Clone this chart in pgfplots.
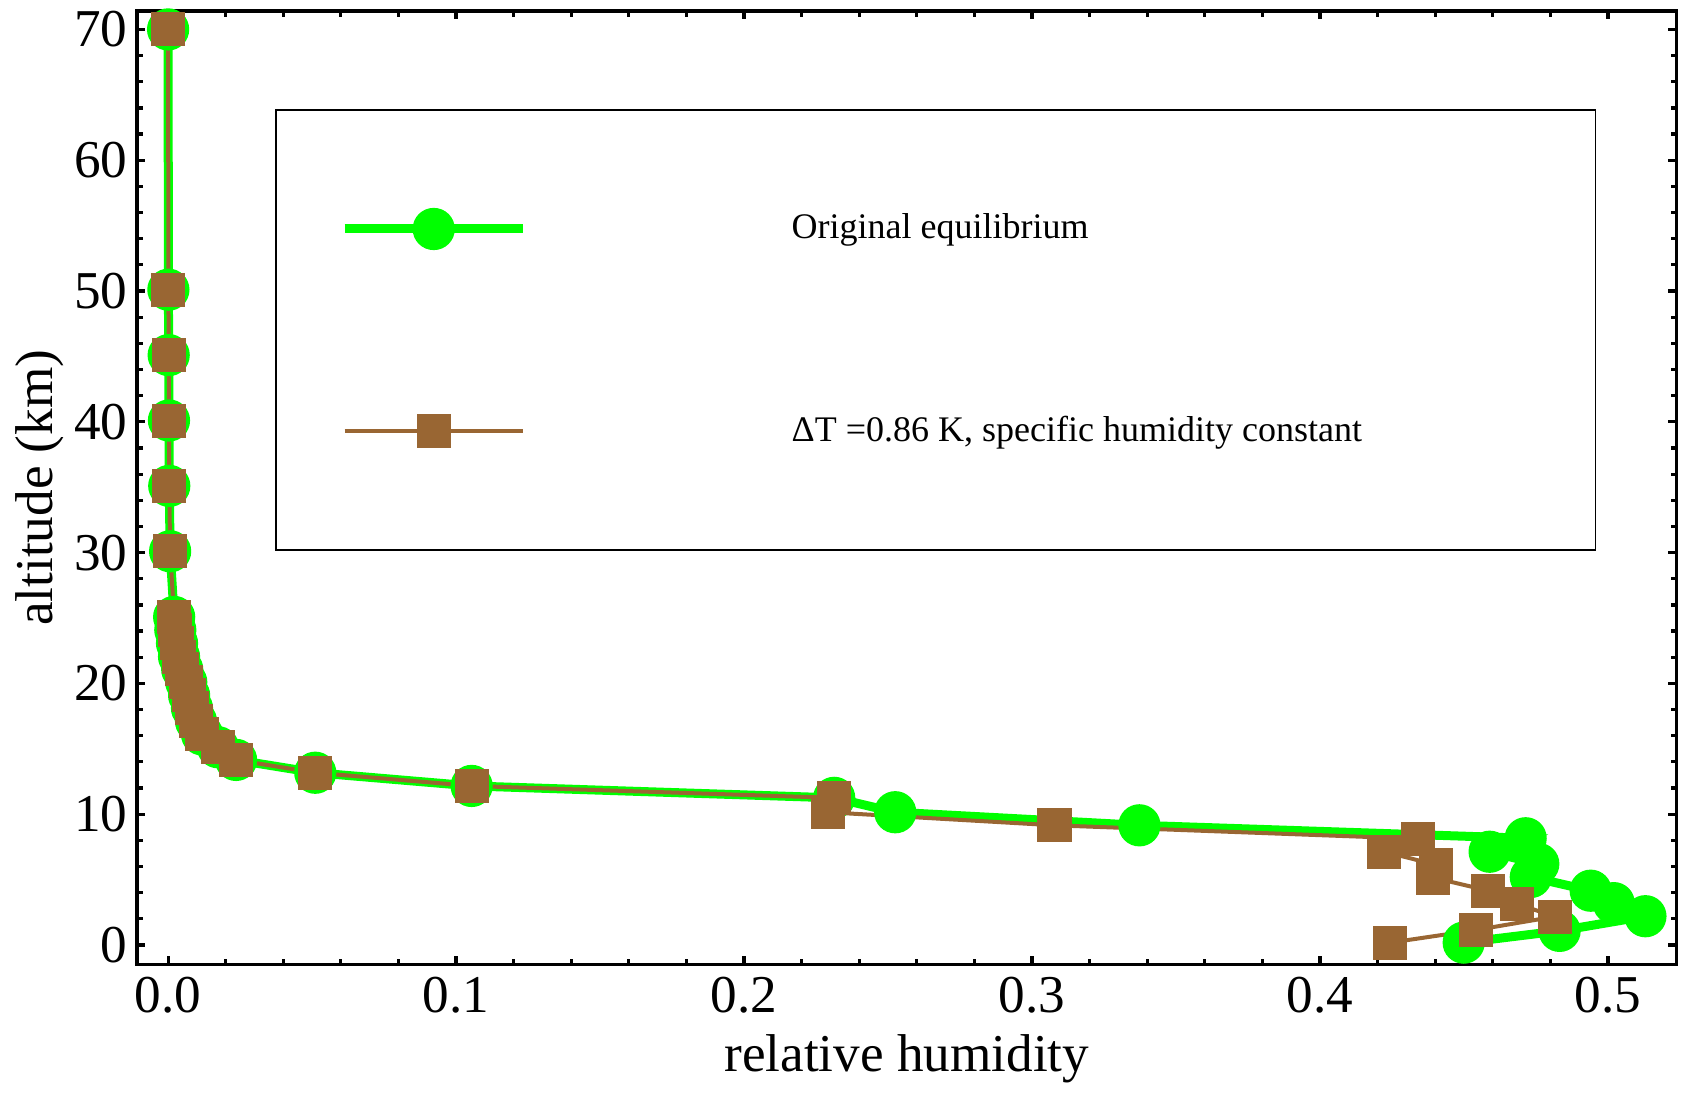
\documentclass[border=0pt]{standalone}
\usepackage{fontspec}
\setmainfont{Liberation Serif}
\usepackage{pgfplots}
\pgfplotsset{compat=1.18}
\definecolor{mgreen}{RGB}{0,255,0}
\definecolor{mbrown}{RGB}{153,102,51}
\begin{document}
\begin{tikzpicture}
\begin{axis}[
  name=ax,
  scale only axis,
  width=384.875pt, height=238.375pt,
  xmin=-0.0108, xmax=0.5238,
  ymin=-1.49, ymax=71.41,
  xtick={0,0.1,0.2,0.3,0.4,0.5},
  xticklabels={0.0,0.1,0.2,0.3,0.4,0.5},
  ytick={0,10,20,30,40,50,60,70},
  minor x tick num=4,
  minor y tick num=4,
  xtick pos=both, ytick pos=both,
  xticklabel pos=lower, yticklabel pos=left,
  tick align=inside,
  major tick length=2.1pt,
  minor tick length=1.4pt,
  every tick/.style={black, line width=0.8pt},
  axis line style={line width=0.85pt},
  /pgf/number format/assume math mode=true,
  tick label style={font=\fontsize{13.3}{16}\selectfont},
  xticklabel style={inner sep=2.9pt},
  yticklabel style={inner sep=2.2pt},
  every axis x label/.style={at={(axis description cs:0.5,-0.1123)}, anchor=base},
  every axis y label/.style={at={(axis description cs:-0.063,0.5)}, rotate=90, anchor=center},
  label style={font=\fontsize{13.3}{16}\selectfont},
  xlabel={relative humidity},
  ylabel={altitude (km)},
  legend cell align=left,
  legend style={
    at={(axis description cs:0.0896,0.8968)}, anchor=north west,
    draw=black, line width=0.4pt,
    inner xsep=0pt, inner ysep=4.4pt,
    /tikz/column sep=0pt, /tikz/row sep=0pt,
    nodes={inner sep=0pt},
    font=\fontsize{9}{11}\selectfont,
  },
  legend image code/.code={
    \path[draw=none, fill=none] (-17.25pt,-25.3pt) rectangle (111.75pt,25.3pt);
    \draw[mark repeat=2,mark phase=2,#1] plot coordinates {(0pt,0pt) (22.25pt,0pt) (44.5pt,0pt)};
  },
]
\addplot[color=mgreen, line width=2.25pt, mark=*, mark size=4.15pt,
  mark options={fill=mgreen, draw=none}] coordinates {
(0.4499,0.18) (0.4832,1.08) (0.513,2.2) (0.502,3.2) (0.494,4.15)
(0.4732,5.2) (0.4758,6.2) (0.4589,7.13) (0.4714,8.16) (0.3373,9.15)
(0.2525,10.15) (0.2313,11.25) (0.1054,12.16) (0.0511,13.17) (0.0236,14.15)
(0.0173,15.12) (0.0118,16.1) (0.0097,17.1) (0.0083,18.1) (0.0073,19.08)
(0.0063,20.1) (0.0049,21.07) (0.0038,22.04) (0.0031,23.06) (0.0025,24.08)
(0.0021,25.08) (0.0007,30.1) (0.0004,35.1) (0.0003,40.1) (0.0002,45.1)
(0.0001,50.1) (0.0,70.0)
};
\addlegendentry{\makebox[200.9pt][l]{Original equilibrium}}
\addplot[color=mbrown, line width=1pt, mark=square*, mark size=3.75pt,
  mark options={fill=mbrown, draw=none}] coordinates {
(0.4244,0.18) (0.4542,1.15) (0.4815,2.17) (0.4685,3.14) (0.4585,4.15)
(0.4393,5.15) (0.4403,6.13) (0.4223,7.13) (0.4339,8.12) (0.3078,9.15)
(0.229,10.15) (0.2313,11.25) (0.1054,12.16) (0.0511,13.17) (0.0236,14.15)
(0.0173,15.12) (0.0118,16.1) (0.0097,17.1) (0.0083,18.1) (0.0073,19.08)
(0.0063,20.1) (0.0049,21.07) (0.0038,22.04) (0.0031,23.06) (0.0025,24.08)
(0.0021,25.08) (0.0007,30.1) (0.0004,35.1) (0.0003,40.1) (0.0002,45.1)
(0.0001,50.1) (0.0,70.0)
};
\addlegendentry{\makebox[200.9pt][l]{ΔT =0.86 K, specific humidity constant}}
\end{axis}
\pgfresetboundingbox
\path ([shift={(-34.25pt,-32.375pt)}]ax.south west) rectangle ([shift={(2.125pt,2.75pt)}]ax.north east);
\end{tikzpicture}
\end{document}
